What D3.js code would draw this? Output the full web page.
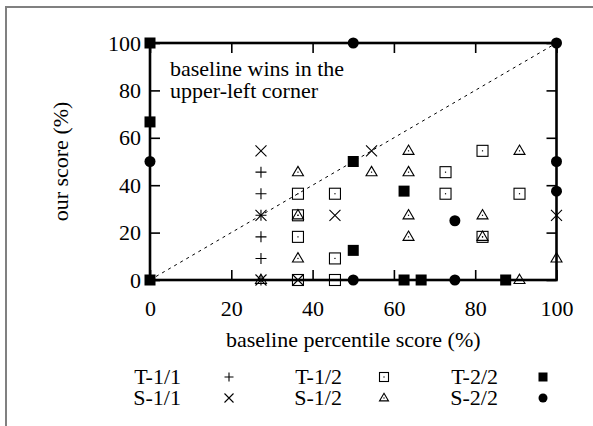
<!DOCTYPE html>
<html>
<head>
<meta charset="utf-8">
<script src="https://cdn.jsdelivr.net/npm/d3@7"></script>
<style>
  body { margin: 0; background: #fff; }
  text { font-family: "Liberation Serif", "Times New Roman", serif; fill: #000; }
</style>
</head>
<body>
<div id="container"></div>
<script>
let w = 593;
let h = 426;

// tick values for both axes
let xTicks = [0, 20, 40, 60, 80, 100];
let yTicks = [0, 20, 40, 60, 80, 100];

// series names, in the order gnuplot draws them
let seriesNames = ["T-1/1", "T-1/2", "T-2/2", "S-1/1", "S-1/2", "S-2/2"];

// points: [baseline percentile, our score]
let t11 = [[27.3, 45.5], [27.3, 36.4], [27.3, 27.3], [27.3, 18.2], [27.3, 9.1], [27.3, 0]];
let t12 = [[36.4, 36.4], [36.4, 27.3], [36.4, 18.2], [36.4, 0], [45.5, 36.4], [45.5, 9.1],
           [45.5, 0], [72.7, 45.5], [72.7, 36.4], [81.8, 54.5], [81.8, 18.2], [90.9, 36.4]];
let t22 = [[0, 100], [0, 66.7], [0, 0], [50, 50], [50, 12.5], [62.5, 37.5], [62.5, 0],
           [66.7, 0], [87.5, 0]];
let s11 = [[27.3, 54.5], [27.3, 27.3], [27.3, 0], [36.4, 0], [45.5, 27.3], [54.5, 54.5], [100, 27.3]];
let s12 = [[27.3, 0], [36.4, 45.5], [36.4, 27.3], [36.4, 9.1], [54.5, 45.5], [63.6, 54.5],
           [63.6, 45.5], [63.6, 27.3], [63.6, 18.2], [81.8, 27.3], [81.8, 18.2], [90.9, 54.5],
           [90.9, 0], [100, 9.1]];
let s22 = [[0, 50], [50, 100], [100, 100], [100, 50], [100, 37.5], [75, 25], [50, 0], [75, 0]];

let seriesData = [t11, t12, t22, s11, s12, s22];
let symbols = ["plus", "boxdot", "box", "cross", "tri", "dot"];

let viz = d3.select("#container")
  .append("svg")
    .attr("width", w)
    .attr("height", h)
    .style("display", "block")
    .style("background-color", "white");

// gray frame, runs off the right and bottom edges
viz.append("rect")
  .attr("x", 6).attr("y", 7)
  .attr("width", 700).attr("height", 600)
  .attr("fill", "none")
  .attr("stroke", "#808080")
  .attr("stroke-width", 2);

let plotLeft = 150, plotRight = 556.5, plotTop = 43, plotBottom = 280;
let xScale = d3.scaleLinear().domain([0, 100]).range([plotLeft, plotRight]);
let yScale = d3.scaleLinear().domain([0, 100]).range([plotBottom, plotTop]);

// inward ticks on all four sides
let xAxis = d3.axisBottom(xScale).tickValues(xTicks).tickSize(-10).tickPadding(20);
let yAxis = d3.axisLeft(yScale).tickValues(yTicks).tickSize(-10).tickPadding(9);
let xTop = d3.axisTop(xScale).tickValues(xTicks).tickSize(-10).tickFormat("");
let yRight = d3.axisRight(yScale).tickValues(yTicks).tickSize(-10).tickFormat("");

function styleAxis(g){
  g.select(".domain").remove();
  g.selectAll(".tick line").attr("stroke", "#000").attr("stroke-width", 1.6);
  g.selectAll(".tick text")
    .style("font-family", "'Liberation Serif', serif")
    .style("font-size", "22px")
    .attr("fill", "#000");
}

viz.append("g").attr("transform", "translate(0," + plotBottom + ")").call(xAxis).call(styleAxis);
viz.append("g").attr("transform", "translate(" + plotLeft + ",0)").call(yAxis).call(styleAxis);
viz.append("g").attr("transform", "translate(0," + plotTop + ")").call(xTop).call(styleAxis);
viz.append("g").attr("transform", "translate(" + plotRight + ",0)").call(yRight).call(styleAxis);

// diagonal reference line
viz.append("line")
  .attr("x1", xScale(0)).attr("y1", yScale(0))
  .attr("x2", xScale(100)).attr("y2", yScale(100))
  .attr("stroke", "#000")
  .attr("stroke-width", 1)
  .attr("stroke-dasharray", "3,4");

// plot border
viz.append("rect")
  .attr("x", plotLeft).attr("y", plotTop)
  .attr("width", plotRight - plotLeft).attr("height", plotBottom - plotTop)
  .attr("fill", "none")
  .attr("stroke", "#000")
  .attr("stroke-width", 2.6);

// annotation
let note = viz.append("text").style("font-size", "22px");
note.append("tspan").attr("x", 170).attr("y", 76).text("baseline wins in the");
note.append("tspan").attr("x", 170).attr("y", 98).text("upper-left corner");

// axis titles
viz.append("text")
  .attr("x", (plotLeft + plotRight) / 2).attr("y", 347)
  .attr("text-anchor", "middle")
  .style("font-size", "22px")
  .text("baseline percentile score (%)");

viz.append("text")
  .attr("transform", "translate(68," + ((plotTop + plotBottom) / 2) + ") rotate(-90)")
  .attr("text-anchor", "middle")
  .style("font-size", "22px")
  .text("our score (%)");

// draws one marker into a group, s is the size
function drawSymbol(g, type, s){
  let hs = s / 2;
  if(type == "plus"){
    g.append("path").attr("d", "M" + (-hs) + ",0H" + hs + "M0," + (-hs) + "V" + hs)
      .attr("stroke", "#000").attr("stroke-width", 1.1).attr("fill", "none");
  }else if(type == "cross"){
    g.append("path").attr("d", "M" + (-hs) + "," + (-hs) + "L" + hs + "," + hs + "M" + (-hs) + "," + hs + "L" + hs + "," + (-hs))
      .attr("stroke", "#000").attr("stroke-width", 1.1).attr("fill", "none");
  }else if(type == "boxdot"){
    g.append("rect").attr("x", -hs).attr("y", -hs).attr("width", s).attr("height", s)
      .attr("stroke", "#000").attr("stroke-width", 1.1).attr("fill", "none");
    g.append("rect").attr("x", -0.6).attr("y", -0.6).attr("width", 1.2).attr("height", 1.2).attr("fill", "#000");
  }else if(type == "tri"){
    let th = s * 0.85;
    g.append("path").attr("d", "M0," + (-th * 0.62) + "L" + hs + "," + (th * 0.38) + "L" + (-hs) + "," + (th * 0.38) + "Z")
      .attr("stroke", "#000").attr("stroke-width", 1.1).attr("fill", "none");
    g.append("rect").attr("x", -0.6).attr("y", -0.6).attr("width", 1.2).attr("height", 1.2).attr("fill", "#000");
  }else if(type == "box"){
    g.append("rect").attr("x", -hs).attr("y", -hs).attr("width", s).attr("height", s).attr("fill", "#000");
  }else if(type == "dot"){
    g.append("circle").attr("r", hs).attr("fill", "#000");
  }
}

let vizgroup = viz.append("g").attr("class", "vizgroup");

seriesData.forEach(function(data, i){
  let size = 11;
  vizgroup.selectAll(".s" + i).data(data).enter()
    .append("g")
      .attr("class", "s" + i)
      .attr("transform", function(d){
        return "translate(" + xScale(d[0]) + "," + yScale(d[1]) + ")";
      })
      .each(function(){ drawSymbol(d3.select(this), symbols[i], size); });
});

// legend: three columns, two rows
let legendTextX = [181, 342, 498];
let legendSymX = [229, 384, 543];
let legendRowY = [377, 398];

seriesNames.forEach(function(name, i){
  let col = i % 3;
  let row = Math.floor(i / 3);
  viz.append("text")
    .attr("x", legendTextX[col]).attr("y", legendRowY[row] + 7)
    .attr("text-anchor", "end")
    .style("font-size", "22px")
    .text(name);
  let g = viz.append("g").attr("transform", "translate(" + legendSymX[col] + "," + legendRowY[row] + ")");
  drawSymbol(g, symbols[i], 9);
});
</script>
</body>
</html>
